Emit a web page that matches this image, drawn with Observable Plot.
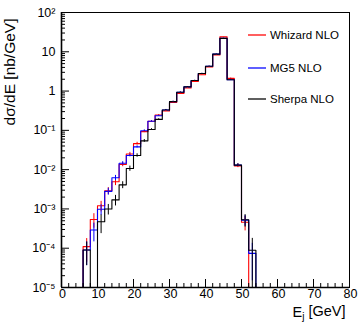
<!DOCTYPE html>
<html><head><meta charset="utf-8">
<script src="https://cdn.jsdelivr.net/npm/d3@7"></script>
<script src="https://cdn.jsdelivr.net/npm/@observablehq/plot@0.6"></script>
<style>
body{margin:0;background:#fff;font-family:"Liberation Sans",Arial,Helvetica,sans-serif;}
#wrap{position:relative;width:360px;height:323px;}
.lg{position:absolute;left:248px;font-size:11.5px;color:#000;display:flex;align-items:center;white-space:nowrap;height:14px;}
.lg svg{margin-right:3px;}
</style></head><body><div id="wrap"></div>
<script>
// bin lower edges (GeV), width 2
const binLow = [6,8,10,12,14,16,18,20,22,24,26,28,30,32,34,36,38,40,42,44,46,48,50,52];
const binWidth = 2;
// dσ/dE [nb/GeV]
const whizard = [1.1e-4,5.4e-4,1.2e-3,2.9e-3,4.9e-3,0.0135,0.025,0.046,0.093,0.17,0.245,0.31,0.51,0.87,1.2,1.75,2.6,4.1,8.3,24,2.1,0.0125,4.6e-4,0];
const mg5     = [9e-5,2.9e-4,9.8e-4,2.8e-3,6.2e-3,0.0145,0.023,0.038,0.098,0.17,0.235,0.33,0.54,0.93,1.28,1.86,2.8,4.3,8.7,22,1.95,0.013,5.2e-4,7.4e-5];
const sherpa  = [9e-5,0,4.7e-4,1.0e-3,1.7e-3,4.1e-3,0.0107,0.023,0.054,0.105,0.19,0.33,0.54,0.93,1.28,1.86,2.8,4.3,8.7,22,1.95,0.013,5.3e-4,8.9e-5];
// relative statistical errors
const whizardErr = [0.6,0.4,0.3,0.2,0.2,0.12,0.1,0.08,0.06,0.04,0.03,0.03,0.02,0.02,0.02,0.01,0.01,0.01,0.01,0.005,0.02,0.1,0.4,0];
const mg5Err     = [0.6,0.5,0.3,0.2,0.15,0.1,0.08,0.06,0.05,0.04,0.03,0.03,0.02,0.02,0.02,0.01,0.01,0.01,0.01,0.005,0.02,0.08,0.3,0.8];
const sherpaErr  = [0.6,0,0.5,0.3,0.3,0.2,0.15,0.1,0.08,0.05,0.04,0.03,0.02,0.02,0.02,0.01,0.01,0.01,0.01,0.005,0.02,0.08,0.35,1.0];

const seriesNames  = ["Whizard NLO","MG5 NLO","Sherpa NLO"];
const seriesColors = ["#ff0000","#0000ff","#000000"];
const seriesValues = [whizard, mg5, sherpa];
const seriesErrors = [whizardErr, mg5Err, sherpaErr];

const xDomain = [0, 80];
const yDomain = [1e-5, 100];
const xMajor = [0,10,20,30,40,50,60,70,80];
const xLabels = ["0","10","20","30","40","50","60","70","80"];
const yMajor = [1e-5,1e-4,1e-3,1e-2,1e-1,1,10,100];
const yLabels = ["10\u207B\u2075","10\u207B\u2074","10\u207B\u00B3","10\u207B\u00B2","10\u207B\u00B9","1","10","10\u00B2"];

const floorV = yDomain[0];
const xMinor = d3.range(xDomain[0], xDomain[1] + 1, 2).filter(v => v % 10 !== 0);
const yMinor = [];
for (const d of yMajor.slice(0, -1)) for (let k = 2; k <= 9; k++) yMinor.push(d * k);

// step outlines
const steps = [];
const errs = [];
seriesValues.forEach((vals, s) => {
  const pts = [];
  pts.push({s, x: binLow[0], y: floorV});
  vals.forEach((v, i) => {
    const vv = v > floorV ? v : floorV;
    pts.push({s, x: binLow[i], y: vv});
    pts.push({s, x: binLow[i] + binWidth, y: vv});
    if (v > 0 && seriesErrors[s][i] > 0) {
      const e = v * seriesErrors[s][i];
      errs.push({s, x: binLow[i] + binWidth / 2, y1: Math.max(v - e, floorV), y2: v + e});
    }
  });
  pts.push({s, x: binLow[binLow.length - 1] + binWidth, y: floorV});
  steps.push(...pts);
});

const font = '"Liberation Sans",Arial,Helvetica,sans-serif';
const chart = Plot.plot({
  width: 360, height: 323,
  marginTop: 12, marginRight: 11, marginBottom: 36, marginLeft: 61,
  style: {fontFamily: font, background: "#fff", color: "#000", overflow: "visible"},
  x: {domain: xDomain},
  y: {type: "log", domain: yDomain},
  marks: [
    ...[0,1,2].map(s => Plot.line(steps.filter(d => d.s === s), {x: "x", y: "y", stroke: seriesColors[s], strokeWidth: 1.1, curve: "linear"})),
    ...[0,1,2].map(s => Plot.ruleX(errs.filter(d => d.s === s), {x: "x", y1: "y1", y2: "y2", stroke: seriesColors[s], strokeWidth: 1})),
    Plot.frame({stroke: "#000", strokeWidth: 1}),
    Plot.ruleX([xDomain[0]], {stroke: "#000", strokeWidth: 1.6}),
    Plot.ruleY([yDomain[0]], {stroke: "#000", strokeWidth: 1.6}),
    Plot.axisY(yMajor, {tickSize: -8, fill: "none", label: null}),
    Plot.axisY(yMinor, {tickSize: -4, fill: "none", label: null}),
    Plot.axisX(xMajor, {tickSize: -8, fill: "none", label: null}),
    Plot.axisX(xMinor, {tickSize: -4, fill: "none", label: null}),
    Plot.text(yMajor, {y: d => d, frameAnchor: "left", dx: -6, textAnchor: "end", lineAnchor: "middle", text: (d, i) => yLabels[i], fontSize: 12.5}),
    Plot.text(xMajor, {x: d => d, frameAnchor: "bottom", dy: 2, dx: 1, lineAnchor: "top", text: (d, i) => xLabels[i], fontSize: 12.5}),
    Plot.text(["dσ/dE [nb/GeV]"], {frameAnchor: "top-left", rotate: -90, textAnchor: "end", lineAnchor: "middle", dx: -51, dy: 6, fontSize: 15.5}),
    Plot.text(["E_j [GeV]"], {frameAnchor: "bottom-right", textAnchor: "end", lineAnchor: "bottom", dx: -4, dy: 29.5, fontSize: 14.5})
  ]
});

const wrap = document.getElementById("wrap");
wrap.appendChild(chart);

// subscript for x label
d3.select(chart).selectAll("text").filter(function(){ return this.textContent === "E_j [GeV]"; })
  .each(function(){
    const t = d3.select(this);
    t.text(null);
    t.append("tspan").text("E");
    t.append("tspan").attr("dy", "0.25em").attr("font-size", "10px").text("j");
    t.append("tspan").attr("dy", "-0.25em").text(" [GeV]");
  });

// legend inside the frame
const legendTops = [28, 61, 92];
seriesNames.forEach((name, i) => {
  const row = d3.select(wrap).append("div").attr("class", "lg").style("top", legendTops[i] + "px");
  const sw = row.append("svg").attr("width", 19).attr("height", 6);
  sw.append("line").attr("x1", 0).attr("x2", 18).attr("y1", 3).attr("y2", 3)
    .attr("stroke", seriesColors[i]).attr("stroke-width", 1.8).attr("stroke-opacity", 0.7);
  row.append("span").text(name);
});
</script>
</body></html>
